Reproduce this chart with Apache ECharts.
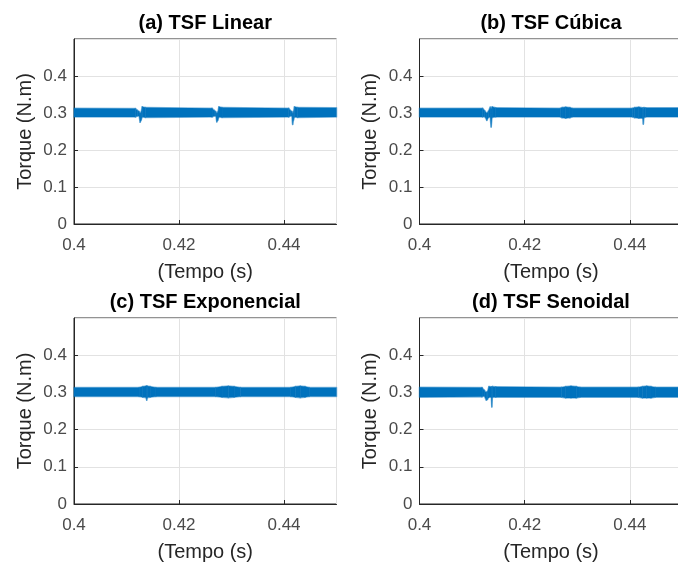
<!DOCTYPE html>
<html><head><meta charset="utf-8">
<script src="https://cdn.jsdelivr.net/npm/echarts@6/dist/echarts.min.js"></script>
<style>html,body{margin:0;padding:0;background:#fff}#c{width:678px;height:564px}</style>
</head><body><div id="c"></div>
<script>
const titles = ['(a) TSF Linear', '(b) TSF Cúbica', '(c) TSF Exponencial', '(d) TSF Senoidal'];
const xName = '(Tempo (s)';
const yName = 'Torque (N.m)';
const xTickLabels = ['0.4', '0.42', '0.44'];
const yTickLabels = ['0', '0.1', '0.2', '0.3', '0.4'];

// (a) TSF Linear – envelope of the torque ripple band
const timeA  = [0.4000, 0.4117, 0.4121, 0.4124, 0.4126, 0.4128, 0.4130, 0.4136, 0.4263, 0.4267, 0.4270, 0.4272, 0.4274, 0.4276, 0.4282, 0.4409, 0.4412, 0.4415, 0.44165, 0.4418, 0.4420, 0.4426, 0.4500];
const upperA = [0.313, 0.312, 0.307, 0.304, 0.298, 0.303, 0.317, 0.315, 0.313, 0.307, 0.304, 0.298, 0.303, 0.317, 0.315, 0.313, 0.307, 0.304, 0.297, 0.303, 0.317, 0.315, 0.314];
const lowerA = [0.289, 0.289, 0.292, 0.292, 0.275, 0.281, 0.289, 0.288, 0.289, 0.292, 0.292, 0.276, 0.281, 0.289, 0.288, 0.289, 0.292, 0.292, 0.269, 0.281, 0.289, 0.288, 0.289];

// (b) TSF Cúbica
const timeB  = [0.4000, 0.4120, 0.4124, 0.4128, 0.4131, 0.41345, 0.41362, 0.4138, 0.4145, 0.4268, 0.4271, 0.4278, 0.4286, 0.4290, 0.4405, 0.4409, 0.4417, 0.44245, 0.44255, 0.44265, 0.4430, 0.4500];
const upperB = [0.313, 0.313, 0.306, 0.299, 0.305, 0.316, 0.310, 0.317, 0.314, 0.313, 0.315, 0.316, 0.315, 0.313, 0.313, 0.315, 0.316, 0.314, 0.308, 0.315, 0.314, 0.314];
const lowerB = [0.289, 0.289, 0.290, 0.280, 0.288, 0.289, 0.262, 0.288, 0.289, 0.289, 0.287, 0.286, 0.287, 0.289, 0.289, 0.287, 0.286, 0.286, 0.270, 0.287, 0.289, 0.289];

// (c) TSF Exponencial
const timeC  = [0.4000, 0.4124, 0.4131, 0.41375, 0.41385, 0.41395, 0.4145, 0.4156, 0.4270, 0.4282, 0.4294, 0.4305, 0.4317, 0.4413, 0.4422, 0.4431, 0.4440, 0.4448, 0.4500];
const upperC = [0.313, 0.313, 0.316, 0.317, 0.317, 0.317, 0.316, 0.313, 0.313, 0.316, 0.317, 0.316, 0.313, 0.313, 0.316, 0.317, 0.316, 0.313, 0.313];
const lowerC = [0.289, 0.289, 0.287, 0.286, 0.279, 0.286, 0.287, 0.289, 0.289, 0.287, 0.286, 0.287, 0.289, 0.289, 0.287, 0.286, 0.287, 0.289, 0.289];

// (d) TSF Senoidal
const timeD  = [0.4000, 0.4119, 0.4123, 0.4127, 0.4129, 0.4132, 0.41365, 0.41375, 0.41385, 0.4145, 0.4270, 0.4278, 0.4288, 0.4298, 0.4305, 0.4416, 0.4424, 0.4432, 0.4440, 0.4448, 0.4500];
const upperD = [0.314, 0.313, 0.306, 0.300, 0.302, 0.316, 0.315, 0.312, 0.316, 0.315, 0.314, 0.316, 0.317, 0.316, 0.314, 0.314, 0.316, 0.317, 0.316, 0.314, 0.314];
const lowerD = [0.287, 0.288, 0.290, 0.279, 0.281, 0.287, 0.287, 0.261, 0.287, 0.287, 0.287, 0.285, 0.285, 0.285, 0.287, 0.287, 0.285, 0.285, 0.285, 0.287, 0.287];

const panels = [
  {t: timeA, up: upperA, lo: lowerA},
  {t: timeB, up: upperB, lo: lowerB},
  {t: timeC, up: upperC, lo: lowerC},
  {t: timeD, up: upperD, lo: lowerD}
];

const FONT = '"Liberation Sans", Arial, Helvetica, sans-serif';
const BLUE = '#0072BD';
const AX = '#262626';
const grids = [
  {left: 74,    top: 39,  width: 262.5, height: 185},
  {left: 419.5, top: 39,  width: 263,   height: 185},
  {left: 74,    top: 318, width: 262.5, height: 186},
  {left: 419.5, top: 318, width: 263,   height: 186}
];

function fmt(list) {
  return function (v) {
    for (const s of list) { if (Math.abs(Number(s) - v) < 1e-9) return s; }
    return '';
  };
}

// band segment between consecutive envelope samples, positioned via the axis scales
function renderBand(params, api) {
  const n = params.dataInsideLength;
  const k = params.dataIndexInside;
  if (k >= n - 1) return null;
  const x0 = api.value(0, k), lo0 = api.value(1, k), up0 = api.value(2, k);
  const x1 = api.value(0, k + 1), lo1 = api.value(1, k + 1), up1 = api.value(2, k + 1);
  const pts = [api.coord([x0, up0]), api.coord([x1, up1]), api.coord([x1, lo1]), api.coord([x0, lo0])];
  return {
    type: 'polygon',
    shape: {points: pts},
    style: {fill: BLUE, stroke: 'rgba(0,114,189,0.45)', lineWidth: 1.6, lineJoin: 'round'}
  };
}

const option = {
  animation: false,
  backgroundColor: '#fff',
  grid: grids.map(g => Object.assign({show: true, borderColor: AX, borderWidth: 1, backgroundColor: 'transparent', containLabel: false, outerBoundsMode: 'none'}, g)),
  xAxis: grids.map((g, i) => ({
    gridIndex: i, type: 'value', min: 0.4, max: 0.45, interval: 0.02,
    name: xName, nameLocation: 'middle', nameGap: 38,
    nameTextStyle: {fontSize: 20, color: AX, fontFamily: FONT},
    axisLine: {show: true, onZero: false, lineStyle: {color: AX, width: 1}},
    axisTick: {show: true, inside: true, length: 4, lineStyle: {color: AX}},
    axisLabel: {fontSize: 17, color: '#4a4a4a', fontFamily: FONT, margin: 13, showMaxLabel: false, formatter: fmt(xTickLabels)},
    splitLine: {show: true, lineStyle: {color: '#e2e2e2', width: 1}}
  })),
  yAxis: grids.map((g, i) => ({
    gridIndex: i, type: 'value', min: 0, max: 0.5, interval: 0.1,
    name: yName, nameLocation: 'middle', nameGap: 39,
    nameTextStyle: {fontSize: 20, color: AX, fontFamily: FONT},
    axisLine: {show: true, onZero: false, lineStyle: {color: AX, width: 1}},
    axisTick: {show: true, inside: true, length: 4, lineStyle: {color: AX}},
    axisLabel: {fontSize: 17, color: '#4a4a4a', fontFamily: FONT, margin: 7, showMaxLabel: false, formatter: fmt(yTickLabels)},
    splitLine: {show: true, lineStyle: {color: '#e2e2e2', width: 1}}
  })),
  graphic: grids.map((g, i) => ({
    type: 'text', x: g.left + g.width / 2, y: g.top - 16,
    style: {text: titles[i], fontSize: 20, fontWeight: 'bold', fontFamily: FONT, fill: '#000', align: 'center', verticalAlign: 'middle'}
  })),
  series: panels.map((p, i) => ({
    type: 'custom', xAxisIndex: i, yAxisIndex: i, silent: true,
    renderItem: renderBand,
    encode: {x: 0, y: [1, 2]},
    data: p.t.map((x, k) => [x, p.lo[k], p.up[k]])
  }))
};

const chart = echarts.init(document.getElementById('c'), null, {renderer: 'canvas'});
chart.setOption(option);
</script>
</body></html>
